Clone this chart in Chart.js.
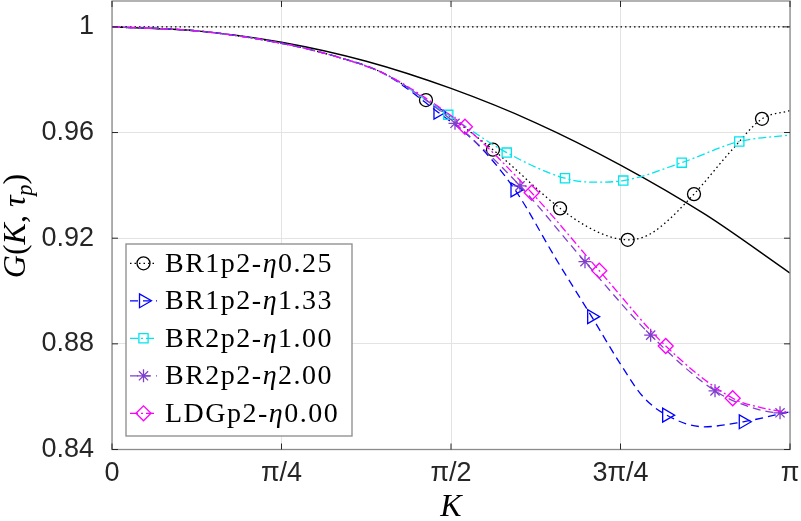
<!DOCTYPE html>
<html>
<head>
<meta charset="utf-8">
<script src="https://cdn.jsdelivr.net/npm/chart.js@4/dist/chart.umd.min.js"></script>
<style>
  html, body { margin: 0; padding: 0; background: #fff; }
  #wrap { width: 801px; height: 521px; }
</style>
</head>
<body>
<div id="wrap"><canvas id="gChart"></canvas></div>
<script>
// K is given in units of pi
var xTicks = [0, 0.25, 0.5, 0.75, 1];
var xTickLabels = ['0', 'π/4', 'π/2', '3π/4', 'π'];
var yTicks = [0.84, 0.88, 0.92, 0.96, 1];
var yTickLabels = ['0.84', '0.88', '0.92', '0.96', '1'];

// reference line G = 1 and exact curve
var kRef = [0, 1];
var gRef = [1, 1];
var kExact = [0, 0.125, 0.25, 0.375, 0.5, 0.625, 0.75, 0.875, 1];
var gExact = [1, 0.9985, 0.9942, 0.9870, 0.9767, 0.9637, 0.9477, 0.9290, 0.9068];

// BR1p2-eta0.25
var kBR1a = [0, 0.125, 0.25, 0.33, 0.4, 0.4631, 0.5619, 0.6608, 0.70, 0.735, 0.7606, 0.785, 0.81, 0.8584, 0.915, 0.9587, 1];
var gBR1a = [1, 0.9985, 0.9938, 0.9888, 0.9825, 0.9723, 0.9535, 0.9313, 0.9245, 0.9205, 0.9194, 0.9205, 0.9245, 0.9367, 0.9536, 0.9652, 0.9683];
var mBR1a = [5, 6, 7, 10, 13, 15];

// BR1p2-eta1.33
var kBR1b = [0, 0.125, 0.25, 0.33, 0.4, 0.4808, 0.5379, 0.5944, 0.6559, 0.7075, 0.7493, 0.7832, 0.8181, 0.8732, 0.9311, 1];
var gBR1b = [1, 0.9985, 0.9938, 0.9888, 0.9825, 0.9677, 0.9559, 0.9383, 0.9117, 0.8903, 0.8726, 0.8600, 0.8530, 0.8486, 0.8505, 0.8543];
var mBR1b = [5, 7, 9, 12, 14];

// BR2p2-eta1.00
var kBR2a = [0, 0.125, 0.25, 0.33, 0.4, 0.455, 0.496, 0.5822, 0.6681, 0.71, 0.7541, 0.8403, 0.9252, 1];
var gBR2a = [1, 0.9985, 0.9938, 0.9888, 0.9825, 0.9738, 0.9667, 0.9524, 0.9427, 0.9412, 0.9418, 0.9486, 0.9566, 0.9591];
var mBR2a = [6, 7, 8, 10, 11, 12];

// BR2p2-eta2.00
var kBR2b = [0, 0.125, 0.25, 0.33, 0.4, 0.455, 0.5059, 0.6018, 0.6976, 0.7945, 0.8894, 0.94, 0.9853, 1];
var gBR2b = [1, 0.9985, 0.9938, 0.9888, 0.9825, 0.9738, 0.9635, 0.9398, 0.9111, 0.8833, 0.8622, 0.8562, 0.8539, 0.8540];
var mBR2b = [6, 7, 8, 9, 10, 12];

// LDGp2-eta0.00
var kLDG = [0, 0.125, 0.25, 0.33, 0.4, 0.46, 0.5206, 0.6190, 0.7187, 0.8167, 0.9155, 0.96, 1];
var gLDG = [1, 0.9985, 0.9938, 0.9888, 0.9825, 0.9735, 0.9622, 0.9372, 0.9077, 0.8792, 0.8594, 0.8557, 0.8540];
var mLDG = [6, 7, 8, 9, 10];

var names = ['BR1p2-η0.25', 'BR1p2-η1.33', 'BR2p2-η1.00', 'BR2p2-η2.00', 'LDGp2-η0.00'];

function pts(k, g) {
    return k.map(function (v, i) { return { x: v, y: g[i] }; });
}

// lower order is painted on top, like later plot() calls in the original
function series(label, k, g, marks, color, dash, style, rot, r, order) {
    return {
        label: label,
        data: pts(k, g),
        order: order,
        borderColor: color,
        backgroundColor: 'rgba(0,0,0,0)',
        borderWidth: 1.3,
        borderDash: dash,
        pointStyle: style,
        pointRotation: rot,
        pointRadius: function (c) { return marks.indexOf(c.dataIndex) >= 0 ? r : 0; },
        pointBorderWidth: 1.3,
        pointBorderColor: color,
        pointBackgroundColor: 'rgba(0,0,0,0)',
        cubicInterpolationMode: 'monotone',
        inLegend: true,
        markR: r
    };
}

var datasets = [
    { label: 'ref', data: pts(kRef, gRef), order: 7, borderColor: '#000', borderWidth: 1.3, borderDash: [1.5, 3], pointRadius: 0 },
    { label: 'exact', data: pts(kExact, gExact), order: 6, borderColor: '#000', borderWidth: 1.4, pointRadius: 0, cubicInterpolationMode: 'monotone' },
    series(names[0], kBR1a, gBR1a, mBR1a, '#000000', [1.5, 3], 'circle', 0, 6.5, 5),
    series(names[1], kBR1b, gBR1b, mBR1b, '#0000ff', [8, 5], 'triangle', 90, 8, 4),
    series(names[2], kBR2a, gBR2a, mBR2a, '#00e5ee', [8, 3, 2, 3], 'rect', 0, 6.5, 3),
    series(names[3], kBR2b, gBR2b, mBR2b, '#8040cc', [8, 5], 'star', 0, 6.5, 2),
    series(names[4], kLDG, gLDG, mLDG, '#ff00ff', [8, 3, 2, 3], 'rectRot', 0, 7.5, 1)
];

function drawSegs(ctx, segs, x, y, size, draw) {
    var w = 0;
    segs.forEach(function (s) {
        var fs = s[1] === 'sub' ? size * 0.7 : size;
        var st = s[1] === 'n' ? '' : 'italic ';
        ctx.font = st + fs + 'px "Liberation Serif"';
        var dy = s[1] === 'sub' ? size * 0.22 : 0;
        if (draw) ctx.fillText(s[0], x + w, y + dy);
        w += ctx.measureText(s[0]).width;
    });
    return w;
}

var framePlugin = {
    id: 'frame',
    afterDraw: function (chart) {
        var ctx = chart.ctx, a = chart.chartArea;
        var xs = chart.scales.x, ys = chart.scales.y;
        ctx.save();
        // axes box
        ctx.strokeStyle = '#8a8a8a';
        ctx.lineWidth = 1.3;
        ctx.setLineDash([]);
        ctx.strokeRect(a.left, a.top, a.right - a.left, a.bottom - a.top);
        // inward ticks
        ctx.strokeStyle = '#262626';
        ctx.lineWidth = 1;
        ctx.beginPath();
        xTicks.forEach(function (v) {
            var px = xs.getPixelForValue(v);
            ctx.moveTo(px, a.bottom); ctx.lineTo(px, a.bottom - 6);
            ctx.moveTo(px, a.top); ctx.lineTo(px, a.top + 6);
        });
        yTicks.forEach(function (v) {
            var py = ys.getPixelForValue(v);
            ctx.moveTo(a.left, py); ctx.lineTo(a.left + 6, py);
            ctx.moveTo(a.right, py); ctx.lineTo(a.right - 6, py);
        });
        ctx.stroke();

        // axis titles
        ctx.fillStyle = '#000';
        ctx.textBaseline = 'alphabetic';
        ctx.font = 'italic 32px "Liberation Serif"';
        ctx.textAlign = 'center';
        ctx.fillText('K', (a.left + a.right) / 2, 516);
        ctx.textAlign = 'left';
        var ySegs = [['G', 'i'], ['(', 'n'], ['K', 'i'], [', ', 'n'], ['τ', 'i'], ['p', 'sub'], [')', 'n']];
        ctx.save();
        ctx.translate(0, 226);
        ctx.rotate(-Math.PI / 2);
        var tw = drawSegs(ctx, ySegs, 0, 0, 32, false);
        drawSegs(ctx, ySegs, -tw / 2, 25, 32, true);
        ctx.restore();

        // legend
        var bx = 126, by = 244, bw = 226, bh = 192;
        ctx.fillStyle = '#fff';
        ctx.fillRect(bx, by, bw, bh);
        ctx.strokeStyle = '#8a8a8a';
        ctx.lineWidth = 1.3;
        ctx.strokeRect(bx, by, bw, bh);
        var row = 0;
        chart.data.datasets.forEach(function (ds) {
            if (!ds.inLegend) return;
            var ry = 263.3 + row * 37.5;
            ctx.strokeStyle = ds.borderColor;
            ctx.lineWidth = ds.borderWidth;
            ctx.setLineDash(ds.borderDash || []);
            ctx.beginPath();
            ctx.moveTo(130, ry); ctx.lineTo(157, ry);
            ctx.stroke();
            ctx.setLineDash([]);
            ctx.lineWidth = ds.pointBorderWidth;
            ctx.fillStyle = 'rgba(0,0,0,0)';
            Chart.helpers.drawPoint(ctx, { pointStyle: ds.pointStyle, rotation: ds.pointRotation, radius: ds.markR, borderWidth: ds.pointBorderWidth }, 143.5, ry);
            ctx.fillStyle = '#000';
            ctx.textBaseline = 'middle';
            ctx.letterSpacing = '1.5px';
            var parts = ds.label.split('η');
            drawSegs(ctx, [[parts[0], 'n'], ['η', 'i'], [parts[1], 'n']], 165, ry + 1, 28, true);
            ctx.letterSpacing = '0px';
            row++;
        });
        ctx.restore();
    }
};

new Chart(document.getElementById('gChart'), {
    type: 'line',
    data: { datasets: datasets },
    options: {
        responsive: true,
        maintainAspectRatio: false,
        animation: false,
        events: [],
        layout: { padding: { top: 1, right: 11, left: 0, bottom: 0 } },
        plugins: { legend: { display: false }, tooltip: { enabled: false } },
        scales: {
            x: {
                type: 'linear',
                min: 0,
                max: 1,
                afterBuildTicks: function (s) { s.ticks = xTicks.map(function (v) { return { value: v }; }); },
                afterFit: function (s) { s.height = 71.5; s.paddingLeft = 0; s.paddingRight = 0; },
                grid: { color: '#e3e3e3', drawTicks: false },
                border: { display: false },
                ticks: {
                    maxRotation: 0,
                    padding: 8,
                    color: '#262626',
                    font: { family: '"Liberation Sans"', size: 27 },
                    callback: function (v, i) { return xTickLabels[i]; }
                }
            },
            y: {
                min: 0.84,
                max: 1.0098,
                afterBuildTicks: function (s) { s.ticks = yTicks.map(function (v) { return { value: v }; }); },
                afterFit: function (s) { s.width = 112; s.paddingTop = 0; s.paddingBottom = 0; },
                grid: { color: '#e3e3e3', drawTicks: false },
                border: { display: false },
                ticks: {
                    padding: 18,
                    color: '#262626',
                    font: { family: '"Liberation Sans"', size: 27 },
                    callback: function (v, i) { return yTickLabels[i]; }
                }
            }
        }
    }
    ,
    plugins: [framePlugin]
});
</script>
</body>
</html>
